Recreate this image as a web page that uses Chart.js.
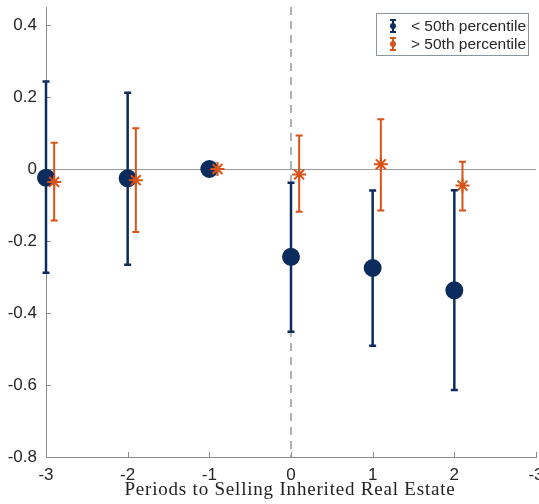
<!DOCTYPE html>
<html>
<head>
<meta charset="utf-8">
<script src="https://cdn.jsdelivr.net/npm/chart.js@4"></script>
<style>
  html, body { margin: 0; padding: 0; background: #ffffff; }
  #wrap { width: 539px; height: 504px; }
</style>
</head>
<body>
<div id="wrap"><canvas id="c" width="539" height="504"></canvas></div>
<script>
// Event-study estimates around the sale of inherited real estate
const periods = [-3, -2, -1, 0, 1, 2];
const xTickValues = [-3, -2, -1, 0, 1, 2, 3];
const xTickLabels = ['-3', '-2', '-1', '0', '1', '2', '-3'];
const yTickValues = [-0.8, -0.6, -0.4, -0.2, 0, 0.2, 0.4];
const yTickLabels = ['-0.8', '-0.6', '-0.4', '-0.2', '0', '0.2', '0.4'];
const seriesNames = ['< 50th percentile', '> 50th percentile'];
const xTitle = 'Periods to Selling Inherited Real Estate';

// Below-median group: point estimate and 95% interval
const belowEst  = [-0.024, -0.026, 0, -0.244, -0.275, -0.337];
const belowLow  = [-0.288, -0.266, 0, -0.452, -0.491, -0.614];
const belowHigh = [ 0.243,  0.212, 0, -0.038, -0.060, -0.059];

// Above-median group
const aboveEst  = [-0.036, -0.031, 0, -0.015,  0.013, -0.046];
const aboveLow  = [-0.143, -0.175, 0, -0.119, -0.115, -0.115];
const aboveHigh = [ 0.073,  0.113, 0,  0.093,  0.138,  0.020];

const BLUE = '#0b2c5c';
const ORANGE = '#d95319';
const AXIS = '#8a8a8a';
const TEXT = '#262626';
const SHIFT = 0.1; // horizontal dodge for the second group

const ds = (name, xs, est, lo, hi, color, style, radius, order) => ({
  label: name,
  data: xs.map((x, i) => ({ x: x, y: est[i] })),
  lo: lo, hi: hi,
  pointStyle: style,
  pointRadius: radius,
  pointHoverRadius: radius,
  pointBorderWidth: 2,
  backgroundColor: color,
  borderColor: color,
  showLine: false,
  clip: false,
  order: order
});

// Error bars, reference lines, inner tick marks, axis title and the legend box
const decor = {
  id: 'decor',
  beforeDatasetsDraw(chart) {
    const { ctx, chartArea: a, scales: { x, y } } = chart;
    ctx.save();
    // zero line
    ctx.strokeStyle = '#9a9a9a';
    ctx.lineWidth = 1;
    const zy = Math.round(y.getPixelForValue(0)) + 0.5;
    ctx.beginPath();
    ctx.moveTo(a.left, zy);
    ctx.lineTo(a.right, zy);
    ctx.stroke();
    // dashed line at the sale period
    ctx.strokeStyle = '#b0b0b0';
    ctx.lineWidth = 2;
    ctx.setLineDash([8, 6]);
    ctx.beginPath();
    ctx.moveTo(x.getPixelForValue(0), a.top);
    ctx.lineTo(x.getPixelForValue(0), a.bottom);
    ctx.stroke();
    ctx.setLineDash([]);
    // inner tick marks
    ctx.strokeStyle = AXIS;
    ctx.lineWidth = 1;
    xTickValues.forEach(v => {
      const px = Math.round(x.getPixelForValue(v)) + 0.5;
      ctx.beginPath(); ctx.moveTo(px, a.bottom); ctx.lineTo(px, a.bottom - 5); ctx.stroke();
    });
    yTickValues.forEach(v => {
      const py = Math.round(y.getPixelForValue(v)) + 0.5;
      ctx.beginPath(); ctx.moveTo(a.left, py); ctx.lineTo(a.left + 5, py); ctx.stroke();
    });
    // error bars
    chart.data.datasets.forEach((d, di) => {
      ctx.strokeStyle = d.borderColor;
      ctx.lineWidth = di === 0 ? 2.5 : 2;
      d.data.forEach((p, i) => {
        if (d.lo[i] === d.hi[i]) return;
        const px = x.getPixelForValue(p.x);
        const y1 = y.getPixelForValue(d.hi[i]);
        const y2 = y.getPixelForValue(d.lo[i]);
        ctx.beginPath();
        ctx.moveTo(px, y1); ctx.lineTo(px, y2);
        ctx.moveTo(px - 3.5, y1); ctx.lineTo(px + 3.5, y1);
        ctx.moveTo(px - 3.5, y2); ctx.lineTo(px + 3.5, y2);
        ctx.stroke();
      });
    });
    ctx.restore();
  },
  afterDraw(chart) {
    const { ctx, chartArea: a } = chart;
    ctx.save();
    // x-axis title
    ctx.fillStyle = '#222222';
    ctx.font = '19px "Liberation Serif", "Times New Roman", serif';
    ctx.letterSpacing = '0.8px';
    ctx.textAlign = 'center';
    ctx.textBaseline = 'alphabetic';
    ctx.fillText(xTitle, (a.left + a.right) / 2 - 1, 495);
    ctx.letterSpacing = '0px';
    // legend
    const bx = 376.5, by = 13.5, bw = 152, bh = 42;
    ctx.fillStyle = '#ffffff';
    ctx.fillRect(bx, by, bw, bh);
    ctx.strokeStyle = '#8c94a0';
    ctx.lineWidth = 1;
    ctx.strokeRect(bx, by, bw, bh);
    ctx.font = '15.5px "Liberation Sans", Arial, sans-serif';
    ctx.textBaseline = 'middle';
    ctx.textAlign = 'left';
    const colors = [BLUE, ORANGE];
    [26, 44].forEach((ry, i) => {
      const mx = 393;
      ctx.strokeStyle = colors[i];
      ctx.fillStyle = colors[i];
      ctx.lineWidth = 2;
      ctx.beginPath();
      ctx.moveTo(mx, ry - 6); ctx.lineTo(mx, ry + 6);
      ctx.moveTo(mx - 3, ry - 6); ctx.lineTo(mx + 3, ry - 6);
      ctx.moveTo(mx - 3, ry + 6); ctx.lineTo(mx + 3, ry + 6);
      ctx.stroke();
      ctx.beginPath(); ctx.arc(mx, ry, 3, 0, Math.PI * 2); ctx.fill();
      ctx.fillStyle = TEXT;
      ctx.fillText(seriesNames[i], 411, ry + 1);
    });
    ctx.restore();
  }
};

new Chart(document.getElementById('c'), {
  type: 'scatter',
  data: {
    datasets: [
      ds(seriesNames[0], periods, belowEst, belowLow, belowHigh, BLUE, 'circle', 8, 1),
      ds(seriesNames[1], periods.map(p => p + SHIFT), aboveEst, aboveLow, aboveHigh, ORANGE, 'star', 7, 0)
    ]
  },
  options: {
    responsive: false,
    animation: false,
    devicePixelRatio: 1,
    layout: { autoPadding: false, padding: { top: 7, right: 3, left: 0, bottom: 0 } },
    plugins: { legend: { display: false }, tooltip: { enabled: false } },
    scales: {
      x: {
        type: 'linear', min: -3, max: 3,
        grid: { display: false, drawTicks: false },
        border: { display: true, color: AXIS, width: 1 },
        afterBuildTicks: s => { s.ticks = xTickValues.map(v => ({ value: v })); },
        afterFit: s => { s.height = 47; s.paddingLeft = 0; s.paddingRight = 0; },
        ticks: {
          autoSkip: false, maxRotation: 0, padding: 8, color: TEXT,
          font: { family: '"Liberation Sans", Arial, sans-serif', size: 17 },
          callback: (v, i) => xTickLabels[i]
        }
      },
      y: {
        type: 'linear', min: -0.8, max: 0.45,
        grid: { display: false, drawTicks: false },
        border: { display: true, color: AXIS, width: 1 },
        afterBuildTicks: s => { s.ticks = yTickValues.map(v => ({ value: v })); },
        afterFit: s => { s.width = 46; s.paddingTop = 0; s.paddingBottom = 0; },
        ticks: {
          padding: 9, color: TEXT,
          font: { family: '"Liberation Sans", Arial, sans-serif', size: 17 },
          callback: (v, i) => yTickLabels[i]
        }
      }
    }
  },
  plugins: [decor]
});
</script>
</body>
</html>
